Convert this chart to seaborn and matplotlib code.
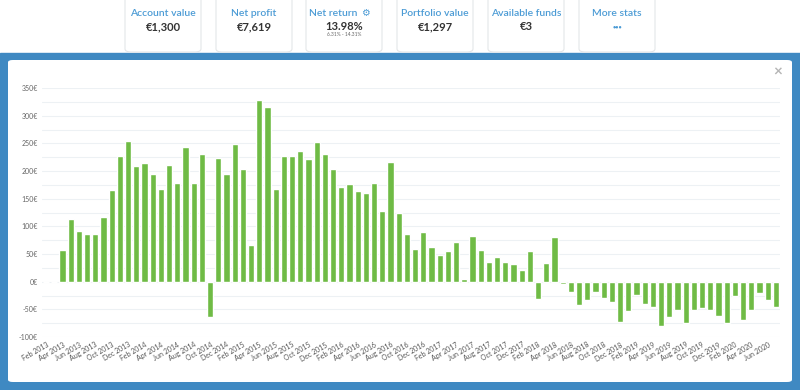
import numpy as np
import pandas as pd
import seaborn as sns
import matplotlib.pyplot as plt
from matplotlib.patches import Rectangle, FancyBboxPatch

# monthly profit, Feb 2013 .. Jul 2020
months = pd.date_range('2013-02-01', '2020-07-01', freq='MS').strftime('%b %Y').tolist()
profit = [0, 0, 58, 114, 91, 86, 87, 117, 165, 228, 255,
          209, 215, 194, 168, 210, 179, 243, 179, 230, -63, 223, 194,
          248, 203, 66, 329, 316, 168, 227, 228, 236, 222, 253, 230,
          203, 171, 177, 163, 161, 178, 127, 217, 125, 86, 59, 90,
          63, 48, 55, 72, 4, 83, 57, 36, 44, 36, 32, 21,
          56, -32, 33, 81, -4, -18, -43, -34, -19, -30, -37, -72,
          -53, -24, -41, -45, -81, -63, -51, -74, -51, -47, -51, -62,
          -74, -25, -69, -51, -20, -33, -45]

card_titles = ['Account value', 'Net profit', 'Net return', 'Portfolio value', 'Available funds', 'More stats']
card_values = ['€1,300', '€7,619', '13.98%', '€1,297', '€3', '•••']

df = pd.DataFrame({'month': months, 'profit': profit})

sns.set_style('white')
plt.rcParams['font.family'] = ['Lato', 'DejaVu Sans']

W, H = 800, 390
fig = plt.figure(figsize=(8, 3.9), dpi=100)
fig.patch.set_facecolor('white')

# blue band + white panel
fig.patches.append(Rectangle((0, 0), 1, 1 - 53 / H, transform=fig.transFigure,
                             color='#3f89c2', zorder=0))
fig.patches.append(FancyBboxPatch((8 / W, 8 / H), 784 / W, 322 / H,
                                  boxstyle='round,pad=0,rounding_size=0.006',
                                  transform=fig.transFigure, fc='white', ec='none', zorder=1))

# stat cards
centers = [163, 254, 344, 435, 526, 617]
for cx, t, v in zip(centers, card_titles, card_values):
    fig.patches.append(FancyBboxPatch(((cx - 38) / W, 1 - 52 / H), 76 / W, 70 / H,
                                      boxstyle='round,pad=0,rounding_size=0.008',
                                      transform=fig.transFigure, fc='white', ec='#e4e6e8',
                                      lw=0.8, zorder=1))
    if t == 'Net return':
        fig.text((cx + 13) / W, 1 - 13 / H, t, ha='right', va='center', fontsize=7.5,
                 color='#4b9bd5', fontweight='semibold')
        fig.text((cx + 21) / W, 1 - 12.5 / H, '⚙', ha='center', va='center', fontsize=7,
                 color='#4b9bd5', family=['DejaVu Sans'])
        fig.text(cx / W, 1 - 35 / H, '6.31% - 14.31%', ha='center', va='center',
                 fontsize=3.5, color='#666666')
    else:
        fig.text(cx / W, 1 - 13 / H, t, ha='center', va='center', fontsize=7.5,
                 color='#4b9bd5', fontweight='semibold')
    vcol = '#4b9bd5' if t == 'More stats' else '#333333'
    vsize = 4 if t == 'More stats' else 8
    fig.text(cx / W, 1 - 27 / H, v, ha='center', va='center', fontsize=vsize,
             color=vcol, fontweight='bold')

fig.text(778 / W, 1 - 73 / H, '×', ha='center', va='center', fontsize=11,
         color='#b5b5b5', fontweight='bold')

ax = fig.add_axes([42 / W, 1 - 337 / H, 738 / W, 249 / H])
ax.set_zorder(2)
ax.patch.set_alpha(0)
sns.barplot(data=df, x='month', y='profit', color='#6fbb45', saturation=1,
            width=0.74, ax=ax, zorder=3)

ax.set_xlim(-0.5, len(months) - 0.5)
ax.set_ylim(-100, 350)
ax.set_yticks(range(-100, 351, 50))
ax.set_yticklabels([f'{v}€' for v in range(-100, 351, 50)], fontsize=5, color='#666666')
ax.set_yticks(range(-75, 351, 50), minor=True)
ax.grid(which='both', axis='y', color='#edf1f4', lw=0.8, zorder=0)
ax.set_axisbelow(True)

pos = list(range(0, len(months), 2))
ax.set_xticks(pos)
ax.set_xticklabels([months[i] for i in pos], rotation=30, ha='right',
                   rotation_mode='anchor', fontsize=5, color='#555555')
ax.tick_params(axis='both', which='both', length=0, pad=3)
ax.set_xlabel('')
ax.set_ylabel('')
for s in ax.spines.values():
    s.set_visible(False)

fig.savefig('out.png', dpi=100)
